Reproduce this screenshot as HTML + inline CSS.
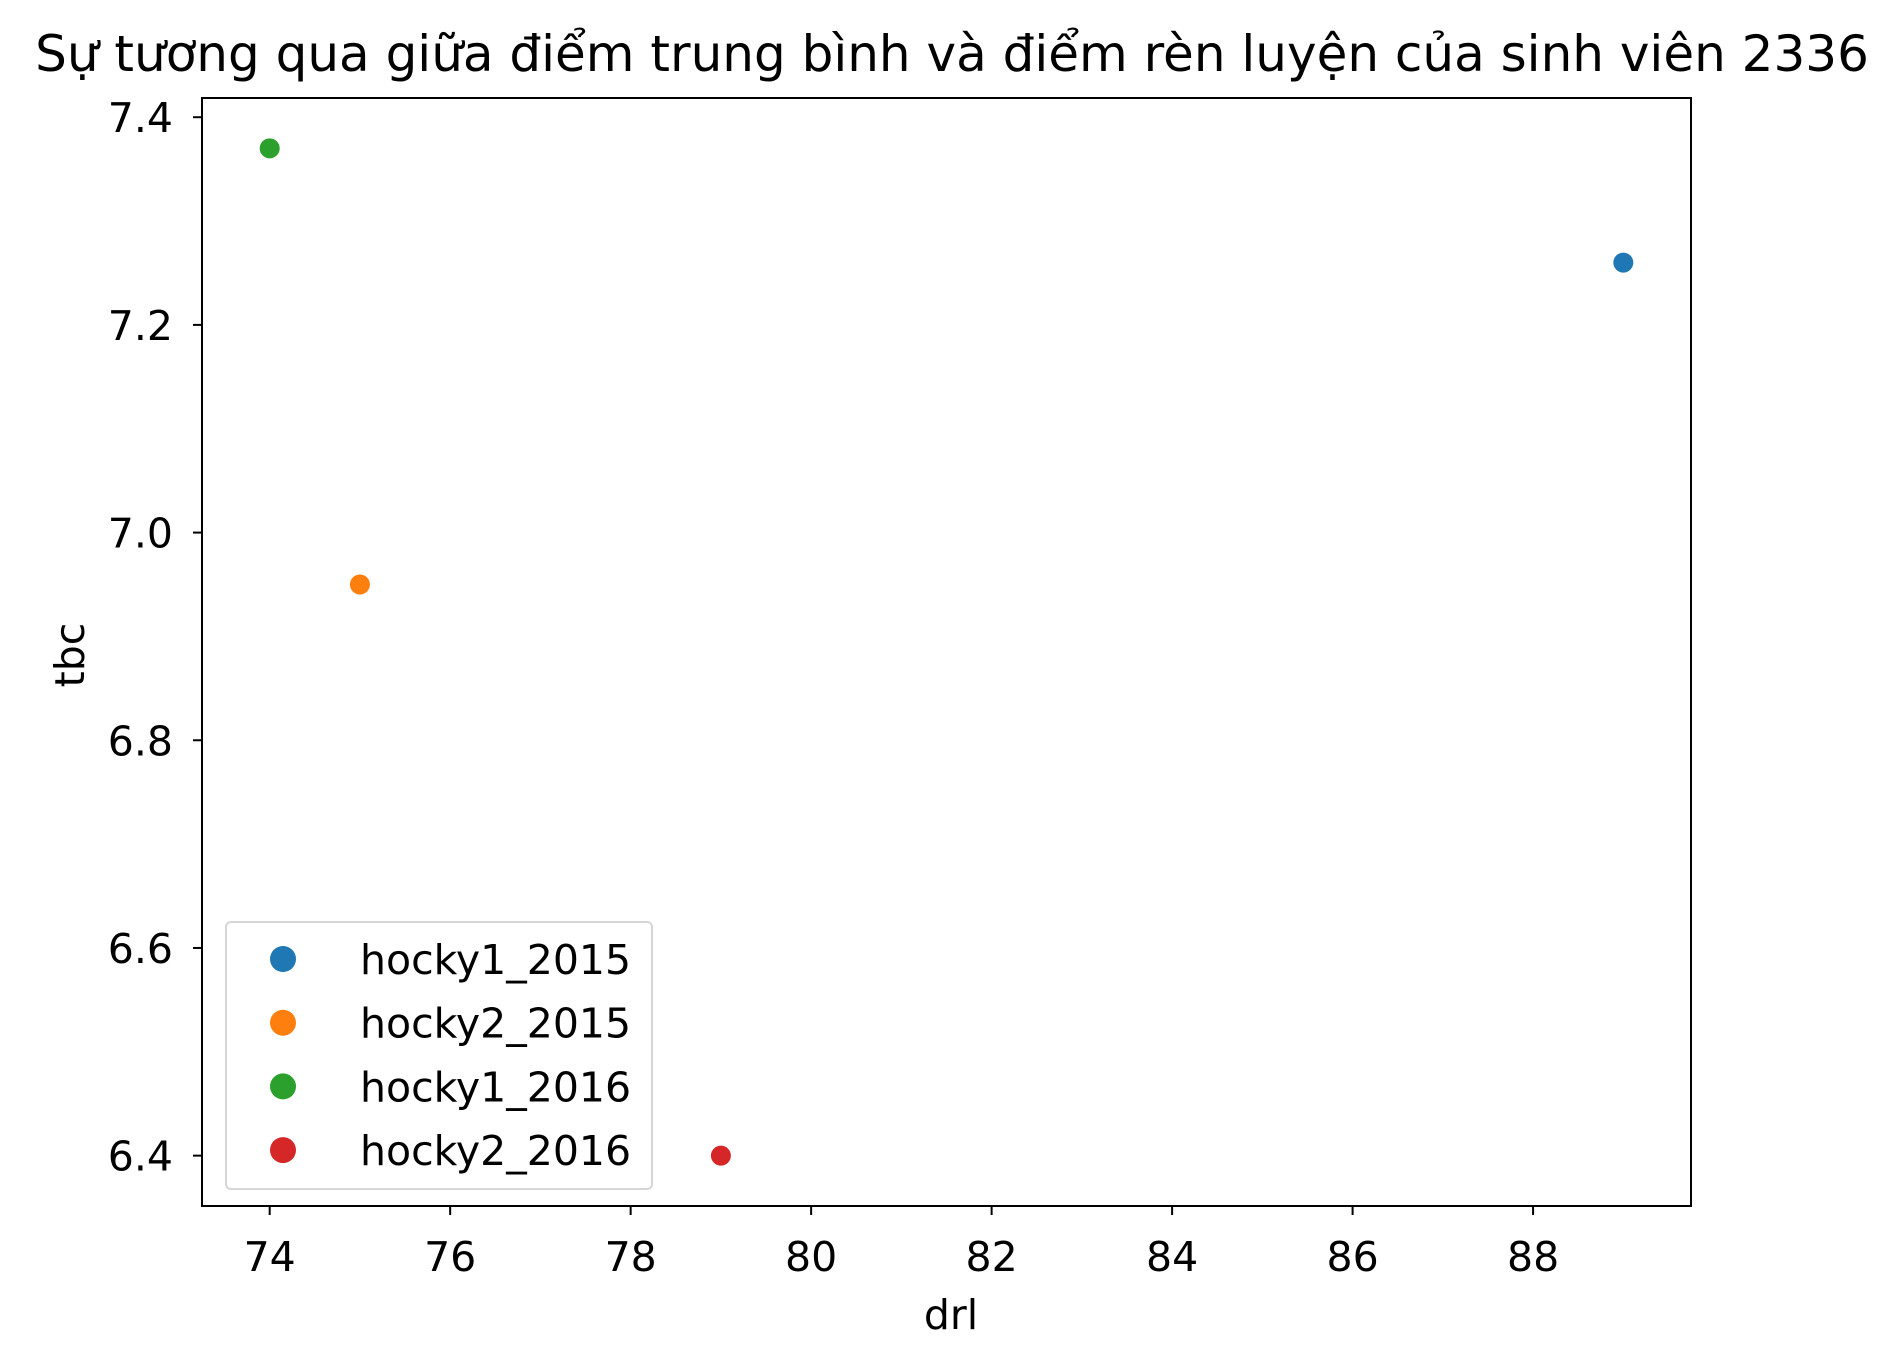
<!DOCTYPE html>
<html><head><meta charset="utf-8"><style>
body{margin:0;background:#fff}
svg{display:block;font-family:"DejaVu Sans","Liberation Sans",sans-serif}
</style></head><body>
<svg id="chart" width="1893" height="1366">
<text x="952" y="71" font-size="50" text-anchor="middle">Sự tương qua giữa điểm trung bình và điểm rèn luyện của sinh viên 2336</text>
<g id="plot"></g>
<rect x="202" y="98" width="1489" height="1108" fill="none" stroke="#000" stroke-width="2"/>
<text x="951" y="1329" font-size="41" text-anchor="middle">drl</text>
<text transform="translate(84,655) rotate(-90)" font-size="41" text-anchor="middle">tbc</text>
<g>
<rect x="226" y="922" width="426" height="267" rx="5" fill="#fff" stroke="#d6d6d6" stroke-width="2"/>
<g id="legend-items"></g>
</g>
</svg>
<script>
const series = ["hocky1_2015","hocky2_2015","hocky1_2016","hocky2_2016"];
const xValues = [89, 75, 74, 79];
const yValues = [7.26, 6.95, 7.37, 6.4];
const colors = ["#1f77b4","#ff7f0e","#2ca02c","#d62728"];
const xTicks = [74,76,78,80,82,84,86,88];
const yTicks = [6.4,6.6,6.8,7.0,7.2,7.4];

const L=202,R=1691,T=98,B=1206;
const xmin=Math.min(...xValues), xmax=Math.max(...xValues), xs=xmax-xmin;
const ymin=Math.min(...yValues), ymax=Math.max(...yValues), ys=ymax-ymin;
const x0=xmin-0.05*xs, x1=xmax+0.05*xs, y0=ymin-0.05*ys, y1=ymax+0.05*ys;
const X=v=>L+(v-x0)/(x1-x0)*(R-L);
const Y=v=>B-(v-y0)/(y1-y0)*(B-T);
const NS="http://www.w3.org/2000/svg";
const g=document.getElementById('plot');
function mk(t,a,p){const e=document.createElementNS(NS,t);for(const k in a)e.setAttribute(k,a[k]);(p||g).appendChild(e);return e;}
xTicks.forEach(v=>{
  const px=X(v);
  const l=mk('line',{x1:px,x2:px,y1:B,y2:B+9,stroke:'#000','stroke-width':2});
  
  
  const t=mk('text',{x:px,y:B+65,'font-size':41,'text-anchor':'middle'});
  t.textContent=v;
  
  
});
yTicks.forEach(v=>{
  const py=Y(v);
  const l=mk('line',{x1:L-9,x2:L,y1:py,y2:py,stroke:'#000','stroke-width':2});
  
  
  const t=mk('text',{x:L-29,y:py+15,'font-size':41,'text-anchor':'end'});
  t.textContent=v.toFixed(1);
  
  
});
series.forEach((s,i)=>{
  const c=mk('circle',{cx:X(xValues[i]),cy:Y(yValues[i]),r:10,fill:colors[i]});
  
  
});
const lg=document.getElementById('legend-items');
series.forEach((s,i)=>{
  const cy=959+i*63.7;
  const c=mk('circle',{cx:283,cy:cy,r:13,fill:colors[i]},lg);
  
  
  const t=mk('text',{x:360,y:cy+15,'font-size':41},lg);
  t.textContent=s;
  
  
});
</script>
</body></html>
